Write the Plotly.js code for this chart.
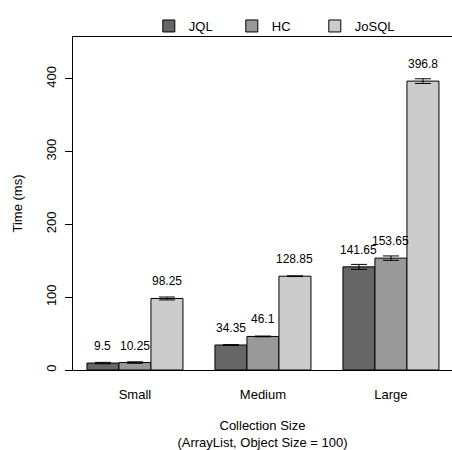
<!DOCTYPE html>
<html>
<head>
<meta charset="utf-8">
<script src="https://cdn.plot.ly/plotly-3.0.1.min.js"></script>
<style>html,body{margin:0;padding:0;background:#fff;}#chart{width:452px;height:450px;}</style>
</head>
<body>
<div id="chart"></div>
<script>
var categories = ["Small", "Medium", "Large"];
var seriesNames = ["JQL", "HC", "JoSQL"];
var jql = [9.5, 34.35, 141.65];
var hc = [10.25, 46.1, 153.65];
var josql = [98.25, 128.85, 396.8];
var jqlErr = [1.0, 0.5, 3.4];
var hcErr = [1.0, 0.5, 3.0];
var josqlErr = [2.0, 0.5, 3.2];
var yTicks = [0, 100, 200, 300, 400];

var colors = ["#666666", "#999999", "#cccccc"];
var values = [jql, hc, josql];
var errs = [jqlErr, hcErr, josqlErr];
var font = "Liberation Sans, Arial, sans-serif";

var traces = values.map(function (v, i) {
  return {
    type: "bar",
    name: seriesNames[i],
    x: categories,
    y: v,
    marker: {color: colors[i], line: {color: "#000", width: 1}},
    error_y: {type: "data", array: errs[i], visible: true, color: "#000", thickness: 1, width: 8},
    hoverinfo: "none"
  };
});

var annotations = [];
var offsets = [-1, 0, 1];
values.forEach(function (v, i) {
  v.forEach(function (val, j) {
    annotations.push({
      x: j + offsets[i] * 0.25,
      y: val,
      xref: "x", yref: "y",
      text: String(val),
      showarrow: false,
      yanchor: "middle",
      yshift: 17,
      font: {family: font, size: 12, color: "#000"}
    });
  });
});

var layout = {
  width: 452, height: 450,
  margin: {l: 73, r: 0, t: 37, b: 80, pad: 0},
  paper_bgcolor: "#fff", plot_bgcolor: "#fff",
  font: {family: font, size: 13, color: "#000"},
  barmode: "group", bargap: 0.25, bargroupgap: 0,
  showlegend: true,
  legend: {orientation: "h", x: 0.2, xanchor: "left", y: 1.033, yanchor: "middle",
           bgcolor: "rgba(0,0,0,0)",
           entrywidth: 38, entrywidthmode: "pixels", font: {family: font, size: 13, color: "#000"},
           traceorder: "normal"},
  xaxis: {
    type: "category", range: [-0.484, 2.477],
    showline: true, linecolor: "#000", linewidth: 1, mirror: true,
    ticks: "outside", ticklen: 12, tickcolor: "rgba(0,0,0,0)",
    showgrid: false, zeroline: false, automargin: false,
    tickfont: {family: font, size: 13, color: "#000"},
    title: {text: "Collection Size<br>(ArrayList, Object Size = 100)", font: {family: font, size: 13, color: "#000"}, standoff: 26}
  },
  yaxis: {
    range: [0, 457.4], tickvals: yTicks, ticktext: yTicks.map(String),
    showline: true, linecolor: "#000", linewidth: 1,
    ticks: "outside", ticklen: 7, tickcolor: "#000", tickangle: -90, ticklabelstandoff: 4,
    showgrid: false, zeroline: false, automargin: false,
    tickfont: {family: font, size: 13, color: "#000"},
    title: {text: "Time (ms)", font: {family: font, size: 13, color: "#000"}, standoff: 18}
  },
  annotations: annotations
};

Plotly.newPlot("chart", traces, layout, {staticPlot: true, displayModeBar: false});
</script>
</body>
</html>
